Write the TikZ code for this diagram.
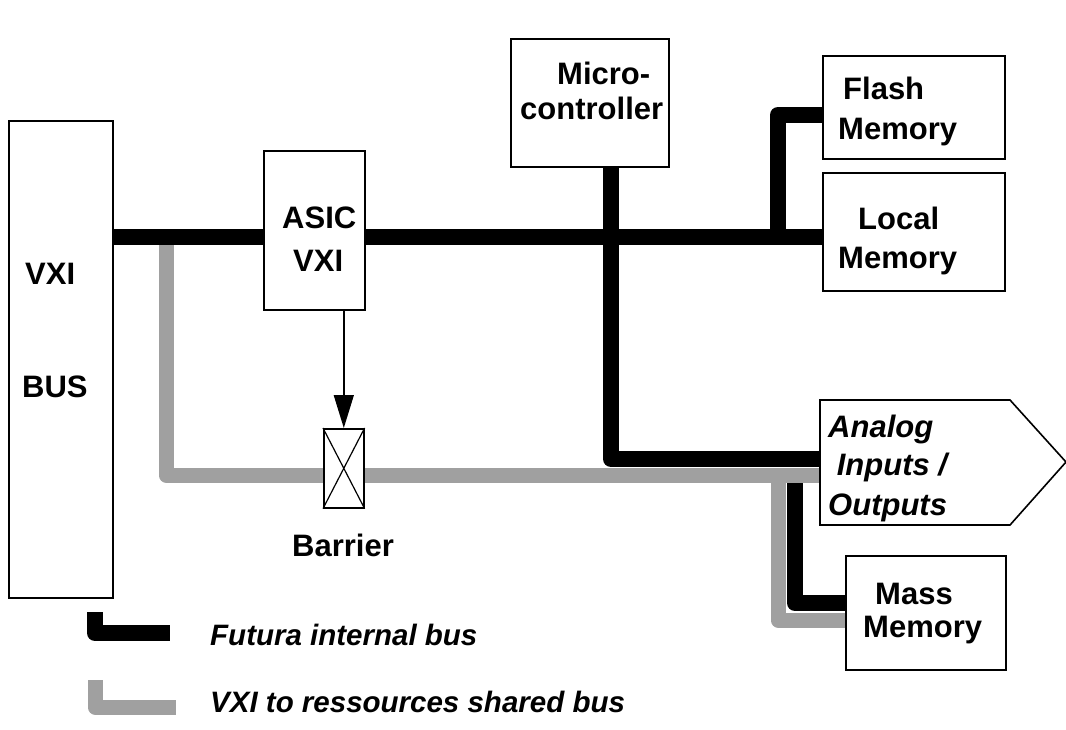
\documentclass[tikz,border=0pt]{standalone}
\usepackage{fontspec}
\setmainfont{Liberation Sans}
\usetikzlibrary{arrows.meta}
\definecolor{busgray}{RGB}{160,160,160}
\tikzset{
  blk/.style={draw=black, line width=1.6pt, fill=white, inner sep=0pt, anchor=north west},
  lbl/.style={font=\fontsize{31}{36}\selectfont\bfseries, inner sep=0pt, anchor=base west},
  ilbl/.style={font=\fontsize{31}{36}\selectfont\bfseries\itshape, inner sep=0pt, anchor=base west},
  leglbl/.style={font=\fontsize{29.5}{35}\selectfont\bfseries\itshape, inner sep=0pt, anchor=base west},
  blackbus/.style={line width=16pt, draw=black, line join=round},
  graybus/.style={line width=15pt, draw=busgray, line join=round},
}
\begin{document}
\begin{tikzpicture}[x=1pt,y=-1pt]
\useasboundingbox (0,0) rectangle (1066,729);
% boxes
\node[blk, minimum width=104pt, minimum height=477pt] (vxi) at (8,120) {};
\node[blk, minimum width=101pt, minimum height=159pt] (asic) at (263,150) {};
\node[blk, minimum width=158pt, minimum height=128pt] (mcu) at (510,38) {};
\node[blk, minimum width=182pt, minimum height=103pt] (flash) at (822,55) {};
\node[blk, minimum width=182pt, minimum height=118pt] (local) at (822,172) {};
\node[blk, minimum width=160pt, minimum height=114pt] (mass) at (845,555) {};
% coordinates
\coordinate (busy) at (0,237);
\coordinate (gy) at (0,475);
\coordinate (by) at (0,459);
\coordinate (gx) at (166,0);
\coordinate (mx) at (611,0);
\coordinate (fx) at (778,0);
\coordinate (mbx) at (795,0);
\coordinate (mgx) at (778,0);
\coordinate (mby) at (0,603);
\coordinate (mgy) at (0,620);
% analog shape
\coordinate (a1) at (820,400);
\coordinate (a2) at (1010,400);
\coordinate (a3) at (1066,462);
\coordinate (a4) at (1010,525);
\coordinate (a5) at (820,525);
% gray bus
\draw[graybus] (gx |- busy) ++(0,8) -- (gx |- gy) -- (a1 |- gy);
\draw[graybus] (mgx |- gy) -- (mgx |- mgy) -- (mass.west |- mgy);
% black bus
\draw[blackbus] (vxi.east |- busy) -- (asic.west |- busy);
\draw[blackbus] (asic.east |- busy) -- (local.west |- busy);
\draw[blackbus] (fx |- busy) -- (fx |- 0,115) -- (flash.west |- 0,115);
\draw[blackbus] (mcu.south -| mx) -- (mx |- by) -- (a1 |- by);
\draw[blackbus] (mbx |- 0,483) -- (mbx |- mby) -- (mass.west |- mby);
% analog node
\draw[line width=1.6pt, fill=white] (a1) -- (a2) -- (a3) -- (a4) -- (a5) -- cycle;
\node[inner sep=0pt] (analog) at (900,462) {};
% barrier
\node[blk, minimum width=40pt, minimum height=79pt] (bar) at (323,428) {};
\draw[line width=1.2pt] (bar.north west) -- (bar.south east) (bar.north east) -- (bar.south west);
\draw[line width=1.4pt, -{Triangle[length=33pt,width=20pt]}] (asic.south -| bar.north) -- (bar.north);
% labels
\node[lbl] (t1) at (25,284) {VXI};
\node[lbl] (t2) at (22,397) {BUS};
\node[lbl] (t3) at (282,228) {ASIC};
\node[lbl] (t4) at (293,271) {VXI};
\node[lbl] (t5) at (557,84) {Micro-};
\node[lbl] (t6) at (520,119) {controller};
\node[lbl] (t7) at (843,99) {Flash};
\node[lbl] (t8) at (838,139) {Memory};
\node[lbl] (t9) at (858,229) {Local};
\node[lbl] (t10) at (838,268) {Memory};
\node[lbl] (t11) at (875,604) {Mass};
\node[lbl] (t12) at (863,637) {Memory};
\node[ilbl] (t13) at (828,437) {Analog};
\node[ilbl] (t14) at (828,475) {\ Inputs /};
\node[ilbl] (t15) at (828,515) {Outputs};
\node[lbl] (t16) at (292,556) {Barrier};
% legend
\coordinate (l1) at (95,612);
\coordinate (l2) at (95,633);
\coordinate (l3) at (170,633);
\coordinate (l4) at (95,680);
\coordinate (l5) at (95,707);
\coordinate (l6) at (176,707);
\draw[blackbus] (l1) -- (l2) -- (l3);
\draw[graybus] (l4) -- (l5) -- (l6);
\node[leglbl] (t17) at (210,645) {Futura internal bus};
\node[leglbl] (t18) at (210,712) {VXI to ressources shared bus};
\end{tikzpicture}
\end{document}
